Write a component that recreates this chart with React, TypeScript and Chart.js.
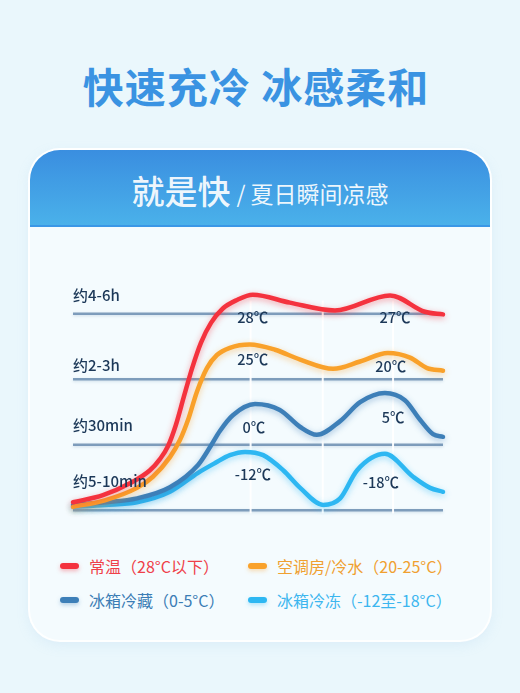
import React, { useEffect, useRef } from "react";
import { Chart, registerables } from "chart.js";

Chart.register(...registerables);

// ---- data (x: time progress 0-100, y: level on the time-band axis) ----
const roomX = [0, 8.1, 15.4, 20.8, 23.5, 25.7, 27.8, 30, 32.2, 34.6, 37.3, 40.5, 44.3, 48.6, 58.6, 70.8, 85.7, 95.1, 100];
const roomY = [0.12, 0.23, 0.41, 0.61, 0.78, 0.98, 1.3, 1.74, 2.17, 2.56, 2.86, 3.08, 3.21, 3.29, 3.17, 3.05, 3.28, 3.03, 2.99];
const airconX = [0, 8.6, 17.3, 21.6, 26.2, 28.9, 31.1, 33.5, 36.2, 38.9, 42.4, 47.8, 54.6, 61.4, 70.3, 77.6, 85.1, 91.1, 95.7, 100];
const airconY = [0.05, 0.15, 0.34, 0.51, 0.81, 1.07, 1.38, 1.81, 2.17, 2.37, 2.48, 2.53, 2.45, 2.3, 2.16, 2.27, 2.4, 2.33, 2.17, 2.13];
const fridgeX = [0, 8.6, 17.3, 26.2, 33.8, 37, 39.7, 43.2, 49.2, 55.9, 61.4, 65.9, 72.2, 77.6, 84.3, 89.7, 93.8, 97.3, 100];
const fridgeY = [0.08, 0.12, 0.18, 0.35, 0.69, 0.96, 1.21, 1.45, 1.62, 1.53, 1.27, 1.15, 1.36, 1.65, 1.79, 1.68, 1.38, 1.16, 1.12];
const freezerX = [0, 8.6, 17.3, 26.2, 33.8, 38.4, 42.4, 46.5, 51.4, 56.8, 61.4, 67.6, 72.2, 76.8, 84.3, 91.9, 96.5, 100];
const freezerY = [0.05, 0.08, 0.12, 0.28, 0.57, 0.72, 0.84, 0.89, 0.84, 0.61, 0.34, 0.08, 0.18, 0.61, 0.86, 0.51, 0.34, 0.28];

const seriesNames = ["常温（28°C以下）", "空调房/冷水（20-25°C）", "冰箱冷藏（0-5°C）", "冰箱冷冻（-12至-18°C）"];
const seriesColors = ["#f4323e", "#f9a12a", "#3d7fb8", "#2db7f2"];
const legendTextColors = ["#ef4049", "#f0a030", "#3b7db5", "#3cb6ef"];

const gridValues = [0, 1, 2, 3];
const timeLabels = ["约5-10min", "约30min", "约2-3h", "约4-6h"];
const timeLabelY = [0.44, 1.29, 2.22, 3.28];
const guideX = [48, 67.5, 86.5];

const tempLabels = ["28℃", "27℃", "25℃", "20℃", "0℃", "5℃", "-12℃", "-18℃"];
const tempLabelX = [48.6, 87, 48.6, 85.9, 48.9, 86.5, 48.6, 83.2];
const tempLabelY = [2.94, 2.94, 2.3, 2.19, 1.26, 1.41, 0.54, 0.43];

const FONT = '"Noto Sans CJK SC", "Noto Sans", sans-serif';

function hexToRgba(hex: string, a: number) {
  const n = parseInt(hex.slice(1), 16);
  return `rgba(${(n >> 16) & 255},${(n >> 8) & 255},${n & 255},${a})`;
}

const decorPlugin = {
  id: "decor",
  beforeDatasetsDraw(chart: any) {
    const { ctx, chartArea, scales } = chart;
    const y = scales.y;
    const x = scales.x;
    ctx.save();
    ctx.lineCap = "butt";
    gridValues.forEach((v) => {
      const py = y.getPixelForValue(v);
      ctx.shadowColor = "rgba(90,130,170,0.3)";
      ctx.shadowBlur = 3;
      ctx.shadowOffsetY = 1;
      ctx.strokeStyle = "rgba(100,135,172,0.8)";
      ctx.lineWidth = 2.5;
      ctx.beginPath();
      ctx.moveTo(chartArea.left, py);
      ctx.lineTo(chartArea.right, py);
      ctx.stroke();
    });
    ctx.shadowColor = "transparent";
    ctx.shadowBlur = 0;
    ctx.shadowOffsetY = 0;
    guideX.forEach((v) => {
      const px = x.getPixelForValue(v);
      ctx.strokeStyle = "rgba(255,255,255,0.95)";
      ctx.lineWidth = 2;
      ctx.beginPath();
      ctx.moveTo(px, y.getPixelForValue(3.2));
      ctx.lineTo(px, y.getPixelForValue(-0.05));
      ctx.stroke();
    });
    ctx.restore();
  },
  beforeDatasetDraw(chart: any, args: any) {
    const ctx = chart.ctx;
    const color = seriesColors[args.index];
    ctx.save();
    ctx.shadowColor = hexToRgba(color, 0.45);
    ctx.shadowBlur = 6;
    ctx.shadowOffsetY = 2;
  },
  afterDatasetDraw(chart: any) {
    chart.ctx.restore();
  },
  afterDatasetsDraw(chart: any) {
    const { ctx, chartArea, scales } = chart;
    ctx.save();
    ctx.fillStyle = "#1c3858";
    ctx.textBaseline = "middle";
    ctx.font = `500 15px ${FONT}`;
    ctx.textAlign = "left";
    timeLabels.forEach((t, i) => {
      ctx.fillText(t, chartArea.left, scales.y.getPixelForValue(timeLabelY[i]));
    });
    ctx.textAlign = "center";
    ctx.font = `500 14.5px ${FONT}`;
    tempLabels.forEach((t, i) => {
      ctx.fillText(t, scales.x.getPixelForValue(tempLabelX[i]), scales.y.getPixelForValue(tempLabelY[i]));
    });
    ctx.restore();
  },
};

function ChartCanvas() {
  const ref = useRef<HTMLCanvasElement | null>(null);
  useEffect(() => {
    if (!ref.current) return;
    const xs = [roomX, airconX, fridgeX, freezerX];
    const ys = [roomY, airconY, fridgeY, freezerY];
    const chart = new Chart(ref.current, {
      type: "line",
      data: {
        datasets: ys.map((arr, i) => ({
          label: seriesNames[i],
          data: arr.map((y, j) => ({ x: xs[i][j], y })),
          borderColor: seriesColors[i],
          borderWidth: 4.5,
          pointRadius: 0,
          fill: false,
          cubicInterpolationMode: "monotone" as const,
          borderCapStyle: "round" as const,
          borderJoinStyle: "round" as const,
          clip: false as any,
          order: i,
        })),
      },
      options: {
        animation: false,
        responsive: false,
        maintainAspectRatio: false,
        devicePixelRatio: 1,
        layout: { padding: { left: 43, right: 47, top: 51, bottom: 22 } },
        plugins: { legend: { display: false }, tooltip: { enabled: false } },
        events: [],
        scales: {
          x: { type: "linear", min: 0, max: 100, display: false },
          y: { type: "linear", min: -0.12, max: 3.5, display: false },
        },
      },
      plugins: [decorPlugin],
    });
    return () => chart.destroy();
  }, []);
  return <canvas ref={ref} width={460} height={310} style={{ display: "block", width: 460, height: 310 }} />;
}

export default function App() {
  return (
    <div
      style={{
        position: "absolute",
        left: 0,
        top: 0,
        width: 520,
        height: 693,
        background: "#eaf7fc",
        fontFamily: FONT,
        overflow: "hidden",
      }}
    >
      <div
        style={{
          position: "absolute",
          left: -4,
          top: 65,
          width: 520,
          height: 40,
          lineHeight: "40px",
          textAlign: "center",
          fontSize: 41,
          fontWeight: 700,
          color: "#3a93e2",
          letterSpacing: 1,
        }}
      >
        快速充冷 冰感柔和
      </div>

      <div
        style={{
          position: "absolute",
          left: 30,
          top: 150,
          width: 460,
          height: 490,
          borderRadius: 30,
          background: "#f4fbfe",
          boxShadow: "0 0 0 2px rgba(255,255,255,0.95), 0 4px 14px rgba(140,190,225,0.18)",
          overflow: "hidden",
        }}
      >
        <div
          style={{
            position: "absolute",
            left: 0,
            top: 0,
            width: 460,
            height: 77,
            background: "linear-gradient(180deg, #3a8ee0 0%, #4ab1ea 100%)",
            borderBottom: "2px solid #3a97e6",
            display: "flex",
            alignItems: "center",
            justifyContent: "center",
            color: "rgba(255,255,255,0.92)",
            paddingTop: 4,
            boxSizing: "border-box",
          }}
        >
          <span style={{ fontSize: 33, fontWeight: 500 }}>就是快</span>
          <span style={{ fontSize: 23, fontWeight: 400, marginLeft: 6, marginTop: 6 }}>/ 夏日瞬间凉感</span>
        </div>

        <div style={{ position: "absolute", left: 0, top: 80 }}>
          <ChartCanvas />
        </div>

        {seriesNames.map((name, i) => {
          const col = i % 2;
          const row = Math.floor(i / 2);
          return (
            <div
              key={name}
              style={{
                position: "absolute",
                left: col === 0 ? 30 : 218,
                top: 416 + row * 34 - 12,
                height: 24,
                display: "flex",
                alignItems: "center",
                whiteSpace: "nowrap",
              }}
            >
              <span
                style={{
                  display: "inline-block",
                  width: 19,
                  height: 6,
                  borderRadius: 3,
                  background: seriesColors[i],
                  boxShadow: `0 2px 4px ${hexToRgba(seriesColors[i], 0.35)}`,
                  marginRight: 10,
                }}
              />
              <span style={{ fontSize: 16, color: legendTextColors[i], lineHeight: "24px" }}>{name}</span>
            </div>
          );
        })}
      </div>
    </div>
  );
}
